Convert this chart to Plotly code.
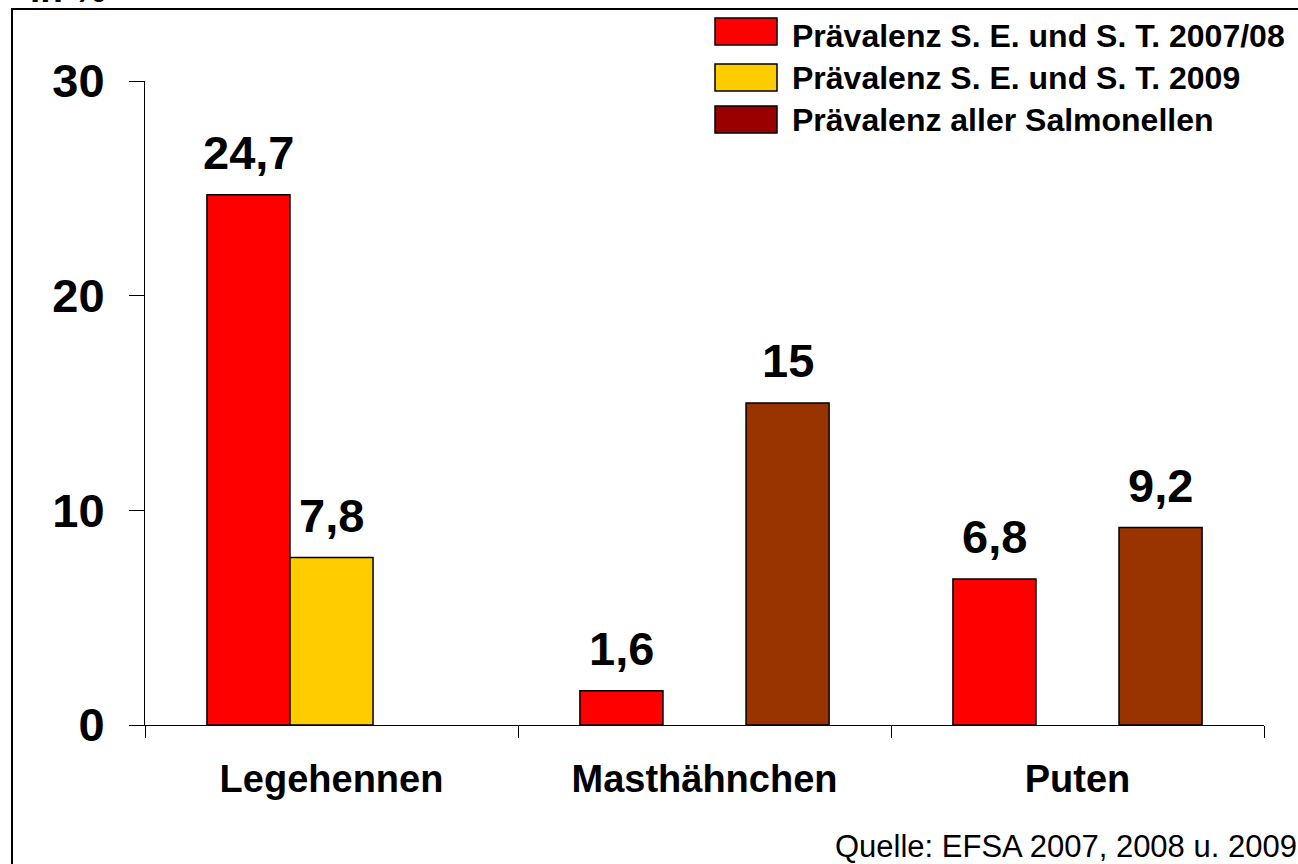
import plotly.graph_objects as go

# ---- data ----
categories = ["Legehennen", "Masthähnchen", "Puten"]
series_names = [
    "Prävalenz S. E. und S. T. 2007/08",
    "Prävalenz S. E. und S. T. 2009",
    "Prävalenz aller Salmonellen",
]
se_st_2007_08 = [24.7, 1.6, 6.8]
se_st_2009 = [7.8, None, None]
all_salmonella = [None, 15, 9.2]
y_tickvals = [0, 10, 20, 30]
y_ticktext = ["0", "10", "20", "30"]

bar_colors = ["#FF0000", "#FFCC00", "#993300"]
legend_colors = ["#FF0000", "#FFCC00", "#990000"]

FONT = "Liberation Sans, Arial, sans-serif"
W, H = 1298, 864
L, R, T, B = 145, 34, 81, 139
PW, PH = W - L - R, H - T - B
BARGAP = 0.332


def px_x(px):
    return (px - L) / PW


def px_y(py):
    return (H - B - py) / PH


def fmt(v):
    return f"{v:g}".replace(".", ",")


fig = go.Figure()
all_series = [se_st_2007_08, se_st_2009, all_salmonella]
for name, vals, col in zip(series_names, all_series, bar_colors):
    fig.add_trace(go.Bar(
        x=categories, y=vals, name=name,
        marker=dict(color=col, line=dict(color="black", width=1.5)),
        showlegend=False, hoverinfo="x+y",
    ))

# value labels above bars (positions from the grouped bar layout)
n = len(all_series)
bw = (1 - BARGAP) / n
annotations = []
for s, vals in enumerate(all_series):
    for i, v in enumerate(vals):
        if v is None:
            continue
        annotations.append(dict(
            x=i + (s - (n - 1) / 2) * bw, y=v, xref="x", yref="y",
            text=fmt(v), showarrow=False, yanchor="bottom", yshift=14,
            font=dict(family=FONT, size=47, color="black", weight="bold"),
        ))

# manual legend
shapes = []
legend_rows = [(18, 45, 36), (64, 91, 78), (106, 133, 120)]
for (y0, y1, ty), name, col in zip(legend_rows, series_names, legend_colors):
    shapes.append(dict(type="rect", xref="paper", yref="paper",
                       x0=px_x(715), x1=px_x(777), y0=px_y(y1), y1=px_y(y0),
                       fillcolor=col, line=dict(color="black", width=1.5)))
    annotations.append(dict(
        x=px_x(790), y=px_y(ty), xref="paper", yref="paper",
        xanchor="left", yanchor="middle", showarrow=False, text=name,
        font=dict(family=FONT, size=32, color="black", weight="bold"),
    ))

# outer frame
shapes.append(dict(type="rect", xref="paper", yref="paper",
                   x0=px_x(12), x1=px_x(1320), y0=px_y(900), y1=px_y(9),
                   line=dict(color="black", width=2), fillcolor="rgba(0,0,0,0)",
                   layer="below"))

# unit label (cut off at the top edge, as in the original)
annotations.append(dict(
    x=px_x(28), y=px_y(12), xref="paper", yref="paper",
    xanchor="left", yanchor="bottom", showarrow=False, text="in %",
    font=dict(family=FONT, size=37, color="black", weight="bold"),
))

# source
annotations.append(dict(
    x=px_x(1299), y=px_y(846), xref="paper", yref="paper",
    xanchor="right", yanchor="middle", showarrow=False,
    text="Quelle: EFSA 2007, 2008 u. 2009",
    font=dict(family=FONT, size=31, color="black"),
))

fig.update_layout(
    width=W, height=H,
    margin=dict(l=L, r=R, t=T, b=B, pad=0),
    paper_bgcolor="white", plot_bgcolor="white",
    barmode="group", bargap=BARGAP, bargroupgap=0,
    showlegend=False,
    annotations=annotations, shapes=shapes,
    xaxis=dict(
        type="category", showline=True, linecolor="black", linewidth=1,
        ticks="outside", tickson="boundaries", ticklen=12, tickcolor="black",
        tickwidth=1, showgrid=False, ticklabelstandoff=20,
        tickfont=dict(family=FONT, size=38, color="black", weight="bold"),
    ),
    yaxis=dict(
        range=[0, 30], tickvals=y_tickvals, ticktext=y_ticktext,
        showline=True, linecolor="black", linewidth=1,
        ticks="outside", ticklen=15, tickcolor="black", tickwidth=1,
        showgrid=False, zeroline=False, ticklabelstandoff=15,
        tickfont=dict(family=FONT, size=47, color="black", weight="bold"),
    ),
)

fig.write_html("out.html", config={"displayModeBar": False},
               post_script="document.body.style.margin='0';document.body.style.overflow='hidden';")
